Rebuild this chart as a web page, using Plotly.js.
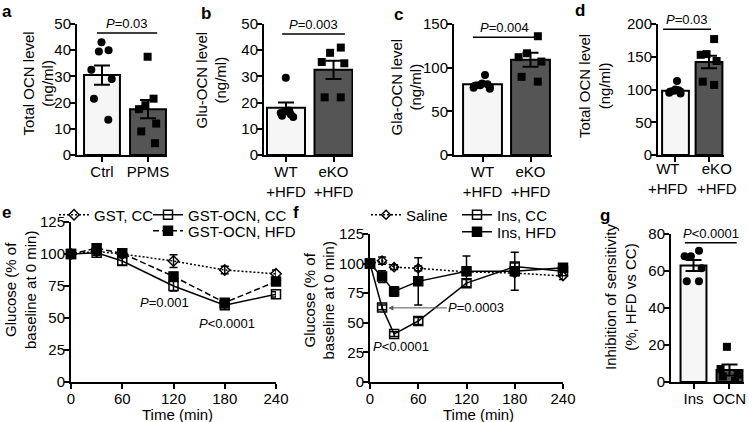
<!DOCTYPE html>
<html><head><meta charset="utf-8">
<script src="https://cdn.plot.ly/plotly-3.0.1.min.js"></script>
<style>html,body{margin:0;padding:0;background:#fff}#chart{width:749px;height:422px}</style>
</head><body><div id="chart"></div>
<script>
// ---------- DATA ----------
// a
const aCats = ['Ctrl', 'PPMS'];
const aMeans = [30.5, 17.5];
const aSem = [3.7, 3.5];
const aCtrlPts = [40, 39.5, 43, 32.5, 29, 21.5, 13.5];
const aPpmsPts = [37.5, 21.5, 19, 17.5, 12, 9, 4.5];
// b
const hfdCats = ['WT<br>+HFD', 'eKO<br>+HFD'];
const bMeans = [18, 32.5];
const bSem = [2, 3.5];
const bWtPts = [29.5, 16.5, 15, 17, 14.5, 16, 15.5];
const bKoPts = [39, 41, 35.5, 35, 22, 22];
// c
const cMeans = [81, 109];
const cSem = [2, 8];
const cWtPts = [91.5, 82, 80, 78, 76, 79, 81, 77];
const cKoPts = [136, 112, 116.5, 107, 84, 89.5];
// d
const dMeans = [98, 142];
const dSem = [2.5, 9.5];
const dWtPts = [113, 100, 98, 96, 94, 97, 99, 95];
const dKoPts = [177, 153, 154, 143.5, 107, 112];
// e
const eTime = [0, 30, 60, 120, 180, 240];
const eGstCC = [100, 102, 100, 94.5, 87.5, 84.5];
const eGstCCErr = [0, 2, 2, 5, 3, 3];
const eOcnCC = [100, 101, 94.5, 75, 60, 68.5];
const eOcnCCErr = [0, 2, 3, 4, 3, 2];
const eOcnHFD = [100, 104.5, 100.5, 82.5, 62, 78.5];
const eOcnHFDErr = [0, 2, 2, 3, 3, 2];
// f
const fTime = [0, 15, 30, 60, 120, 180, 240];
const fSaline = [100, 102.5, 97, 96, 93, 92, 89.5];
const fSalineErr = [0, 3, 2, 2, 2, 2, 3];
const fInsCC = [100, 63, 40.5, 51.5, 83.5, 97.5, 93.5];
const fInsCCErr = [0, 2, 2, 3, 3, 3, 3];
const fInsHFD = [100, 89, 76.5, 85, 93.5, 93.5, 96.5];
const fInsHFDErr = [0, 5, 4, 20, 13, 16, 3];
// g
const gCats = ['Ins', 'OCN'];
const gMeans = [63, 6.5];
const gSem = [3, 3];
const gInsPts = [71, 68, 68, 61.5, 54.5, 54.5];
const gOcnPts = [19, 7, 4, 0.5, 3];

// axis titles
const titleA = 'Total OCN level<br>(ng/ml)';
const titleB = 'Glu-OCN level<br>(ng/ml)';
const titleC = 'Gla-OCN level<br>(ng/ml)';
const titleD = 'Total OCN level<br>(ng/ml)';
const titleEF = 'Glucose (% of<br>baseline at 0 min)';
const titleG = 'Inhibition of sensitivity<br>(%, HFD vs CC)';
const titleTime = 'Time (min)';

// ---------- HELPERS ----------
const W = 749, H = 422;
const FONT = 'Liberation Sans, Arial, Helvetica, sans-serif';
const LIGHT = '#f6f6f6', DARK = '#555555';
const px = v => v / W;
const py = v => 1 - v / H;

function xax(dom, range, anchor, extra) {
  return Object.assign({
    domain: [px(dom[0]), px(dom[1])], range: range, anchor: anchor,
    showline: true, linewidth: 2, linecolor: '#000', ticks: 'outside', ticklen: 5, tickwidth: 2,
    tickcolor: '#000', showgrid: false, zeroline: false, tickfont: {size: 15, color: '#000'},
    tickangle: 0, ticklabelstandoff: -3, fixedrange: true
  }, extra || {});
}
function yax(dom, range, dtick, anchor) {
  return {
    domain: [py(dom[1]), py(dom[0])], range: range, dtick: dtick, tick0: 0, anchor: anchor,
    showline: true, linewidth: 2, linecolor: '#000', ticks: 'outside', ticklen: 5, tickwidth: 2,
    tickcolor: '#000', showgrid: false, zeroline: false, tickfont: {size: 15, color: '#000'},
    ticklabelstandoff: -4, fixedrange: true
  };
}
function barTrace(cats, means, sem, width, xa, ya) {
  return {
    type: 'bar', x: cats, y: means, width: width, xaxis: xa, yaxis: ya, showlegend: false,
    marker: {color: [LIGHT, DARK], line: {color: '#000', width: 2}},
    error_y: {type: 'data', array: sem, visible: true, color: '#000', thickness: 2, width: 8}
  };
}
function dotTrace(cat, vals, symbol, xa, ya) {
  return {
    type: 'box', x0: cat, y: vals, xaxis: xa, yaxis: ya, showlegend: false,
    boxpoints: 'all', jitter: 0.9, pointpos: 0, width: 0.65,
    line: {width: 0, color: 'rgba(0,0,0,0)'}, fillcolor: 'rgba(0,0,0,0)',
    marker: {color: '#000', symbol: symbol, size: 8, line: {width: 0}}
  };
}
function lineTrace(x, y, err, name, symbol, dash, msize, xa, ya, leg) {
  return {
    type: 'scatter', mode: 'lines+markers', x: x, y: y, name: name, xaxis: xa, yaxis: ya,
    legend: leg, cliponaxis: false,
    line: {color: '#000', width: 1.5, dash: dash},
    marker: {symbol: symbol, size: msize, color: '#000', line: {color: '#000', width: 1.5}},
    error_y: {type: 'data', array: err, visible: true, color: '#000', thickness: 1.5, width: 4}
  };
}

// ---------- TRACES ----------
const traces = [
  barTrace(aCats, aMeans, aSem, 0.78, 'x', 'y'),
  dotTrace(aCats[0], aCtrlPts, 'circle', 'x', 'y'),
  dotTrace(aCats[1], aPpmsPts, 'square', 'x', 'y'),
  barTrace(hfdCats, bMeans, bSem, 0.8, 'x2', 'y2'),
  dotTrace(hfdCats[0], bWtPts, 'circle', 'x2', 'y2'),
  dotTrace(hfdCats[1], bKoPts, 'square', 'x2', 'y2'),
  barTrace(hfdCats, cMeans, cSem, 0.81, 'x3', 'y3'),
  dotTrace(hfdCats[0], cWtPts, 'circle', 'x3', 'y3'),
  dotTrace(hfdCats[1], cKoPts, 'square', 'x3', 'y3'),
  barTrace(hfdCats, dMeans, dSem, 0.8, 'x4', 'y4'),
  dotTrace(hfdCats[0], dWtPts, 'circle', 'x4', 'y4'),
  dotTrace(hfdCats[1], dKoPts, 'square', 'x4', 'y4'),
  lineTrace(eTime, eGstCC, eGstCCErr, 'GST, CC', 'diamond-open', '2px,2px', 8, 'x5', 'y5', 'legend'),
  lineTrace(eTime, eOcnCC, eOcnCCErr, 'GST-OCN, CC', 'square-open', 'solid', 9, 'x5', 'y5', 'legend2'),
  lineTrace(eTime, eOcnHFD, eOcnHFDErr, 'GST-OCN, HFD', 'square', '6px,3px', 9, 'x5', 'y5', 'legend3'),
  lineTrace(fTime, fSaline, fSalineErr, 'Saline', 'diamond-open', '2px,2px', 7, 'x6', 'y6', 'legend4'),
  lineTrace(fTime, fInsCC, fInsCCErr, 'Ins, CC', 'square-open', 'solid', 9, 'x6', 'y6', 'legend5'),
  lineTrace(fTime, fInsHFD, fInsHFDErr, 'Ins, HFD', 'square', 'solid', 9, 'x6', 'y6', 'legend6'),
  barTrace(gCats, gMeans, gSem, 0.72, 'x7', 'y7'),
  dotTrace(gCats[0], gInsPts, 'circle', 'x7', 'y7'),
  dotTrace(gCats[1], gOcnPts, 'square', 'x7', 'y7')
];

// ---------- ANNOTATIONS / SHAPES ----------
function bracket(xa, ya, x0, x1, y, label) {
  return {
    shape: {type: 'line', xref: xa, yref: ya, x0: x0, x1: x1, y0: y, y1: y, line: {color: '#000', width: 1.5}},
    ann: {xref: xa, yref: ya, x: (x0 + x1) / 2, y: y, yanchor: 'bottom', showarrow: false,
          text: label, font: {size: 13, color: '#000'}}
  };
}
const brackets = [
  bracket('x', 'y', -0.11, 1.2, 46.6, '<i>P</i>=0.03'),
  bracket('x2', 'y2', -0.08, 1.24, 46.2, '<i>P</i>=0.003'),
  bracket('x3', 'y3', -0.2, 1.1, 134.8, '<i>P</i>=0.004'),
  bracket('x4', 'y4', -0.37, 1.06, 192, '<i>P</i>=0.03'),
  bracket('x7', 'y7', -0.24, 1.2, 75.3, '<i>P</i>&lt;0.0001')
];
const panelLabels = [['a', 7, 12], ['b', 206, 13], ['c', 398, 14], ['d', 580, 11],
                     ['e', 7, 212], ['f', 296, 212], ['g', 605, 215]].map(l => ({
  xref: 'paper', yref: 'paper', x: px(l[1]), y: py(l[2]), xanchor: 'center', yanchor: 'middle',
  showarrow: false, text: '<b>' + l[0] + '</b>', font: {size: 17, color: '#000'}
}));
// y-axis titles (rotated) positioned beside each axis
const yTitles = [[titleA, 37.5, 84], [titleB, 211.5, 80], [titleC, 406.5, 87], [titleD, 594, 86],
                 [titleEF, 20, 290], [titleEF, 318.5, 301], [titleG, 620, 297]].map(t => ({
  xref: 'paper', yref: 'paper', x: px(t[1]), y: py(t[2]), xanchor: 'center', yanchor: 'middle',
  textangle: -90, showarrow: false, text: t[0], font: {size: 15, color: '#000'}
}));
const xTitles = [[titleTime, 177, 414], [titleTime, 478, 414]].map(t => ({
  xref: 'paper', yref: 'paper', x: px(t[1]), y: py(t[2]), xanchor: 'center', yanchor: 'middle',
  showarrow: false, text: t[0], font: {size: 15, color: '#000'}
}));
// panel d category labels are spread outward like the reference
const dTickLabels = hfdCats.map((c, i) => ({
  xref: 'x4', yref: 'paper', x: i, y: py(158), yanchor: 'top', xshift: i === 0 ? -7 : 8,
  showarrow: false, text: c, font: {size: 15, color: '#000'}
}));
const annotations = brackets.map(b => b.ann).concat(panelLabels, yTitles, xTitles, dTickLabels, [
  {xref: 'x5', yref: 'y5', x: 110, y: 62.4, showarrow: false, text: '<i>P</i>=0.001', font: {size: 13, color: '#000'}},
  {xref: 'x5', yref: 'y5', x: 182.6, y: 46, showarrow: false, text: '<i>P</i>&lt;0.0001', font: {size: 13, color: '#000'}},
  {xref: 'x6', yref: 'y6', x: 38.5, y: 29.6, showarrow: false, text: '<i>P</i>&lt;0.0001', font: {size: 13, color: '#000'}},
  {xref: 'x6', yref: 'y6', x: 22.8, y: 62.6, ax: 88, ay: 0, showarrow: true, arrowhead: 2, arrowsize: 1,
   arrowwidth: 1, arrowcolor: '#555', text: '<i>P</i>=0.0003', font: {size: 13, color: '#000'}}
]);

function leg(xText, y) {
  return {x: px(xText - 40), y: py(y), xanchor: 'left', yanchor: 'middle', bgcolor: 'rgba(0,0,0,0)',
          borderwidth: 0, font: {size: 15, color: '#000'}, itemwidth: 30, tracegroupgap: 0};
}

const layout = {
  width: W, height: H, margin: {l: 0, r: 0, t: 0, b: 0}, paper_bgcolor: '#fff', plot_bgcolor: 'rgba(0,0,0,0)',
  font: {family: FONT, color: '#000', size: 15}, showlegend: true, barmode: 'group', boxmode: 'overlay',
  xaxis: xax([77, 167], [-0.543, 1.413], 'y', {type: 'category'}),
  yaxis: yax([24, 155], [0, 50], 10, 'x'),
  xaxis2: xax([264, 353], [-0.463, 1.41], 'y2', {type: 'category'}),
  yaxis2: yax([24, 155], [0, 50], 10, 'x2'),
  xaxis3: xax([454, 552], [-0.594, 1.448], 'y3', {type: 'category'}),
  yaxis3: yax([24, 155], [0, 150], 50, 'x3'),
  xaxis4: xax([658, 724], [-0.522, 1.448], 'y4', {type: 'category', showticklabels: false}),
  yaxis4: yax([24, 155], [0, 200], 50, 'x4'),
  xaxis5: xax([71, 276], [0, 240], 'y5', {dtick: 60, tick0: 0}),
  yaxis5: yax([222, 382], [0, 125], 25, 'x5'),
  xaxis6: xax([370, 563], [0, 240], 'y6', {dtick: 60, tick0: 0}),
  yaxis6: yax([234, 382], [0, 125], 25, 'x6'),
  xaxis7: xax([671, 744], [-0.625, 1.403], 'y7', {type: 'category'}),
  yaxis7: yax([234, 382], [0, 80], 20, 'x7'),
  legend: leg(94, 215), legend2: leg(188, 215), legend3: leg(188, 231),
  legend4: leg(406, 215), legend5: leg(497, 215), legend6: leg(497, 232),
  shapes: brackets.map(b => b.shape),
  annotations: annotations
};

Plotly.newPlot('chart', traces, layout, {staticPlot: true, displayModeBar: false});
</script></body></html>
